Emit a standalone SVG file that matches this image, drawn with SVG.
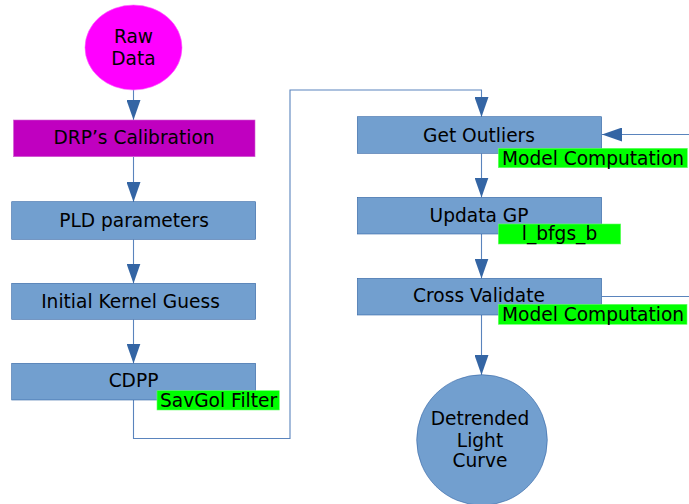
<svg xmlns="http://www.w3.org/2000/svg" width="689" height="504" viewBox="0 0 689 504">
<style>
text{font-family:"DejaVu Sans","Liberation Sans",sans-serif;font-size:18.6px;fill:#000;text-anchor:middle}
.box{fill:#729fcf;stroke:#3465a4;stroke-width:0.6}
.tag{fill:#00ff00;stroke:#66ff66;stroke-width:0.6}
.tag-t{text-anchor:start}
.conn{fill:none;stroke:#5a84bd;stroke-width:1.1}
</style>
<defs>
<marker id="ah" viewBox="0 0 20 14" refX="20" refY="7" markerWidth="20" markerHeight="14" orient="auto" markerUnits="userSpaceOnUse">
<path d="M0,0 L20,7 L0,14 z" fill="#3465a4"/>
</marker>
</defs>
<rect width="689" height="504" fill="#ffffff"/>
<g id="connectors">
<line class="conn" x1="133.5" y1="90" x2="133.5" y2="120" marker-end="url(#ah)"/>
<line class="conn" x1="133.5" y1="157" x2="133.5" y2="202" marker-end="url(#ah)"/>
<line class="conn" x1="133.5" y1="239.5" x2="133.5" y2="283.5" marker-end="url(#ah)"/>
<line class="conn" x1="133.5" y1="319.5" x2="133.5" y2="363.5" marker-end="url(#ah)"/>
<polyline class="conn" points="133.5,400 133.5,438.5 290,438.5 290,90 481.5,90 481.5,117" marker-end="url(#ah)"/>
<line class="conn" x1="481.5" y1="153.5" x2="481.5" y2="197.5" marker-end="url(#ah)"/>
<line class="conn" x1="481.5" y1="234" x2="481.5" y2="278.5" marker-end="url(#ah)"/>
<line class="conn" x1="481.5" y1="315" x2="481.5" y2="375" marker-end="url(#ah)"/>
<line class="conn" x1="689" y1="134.5" x2="602" y2="134.5" marker-end="url(#ah)"/>
<line class="conn" x1="602" y1="296.5" x2="689" y2="296.5"/>
</g>
<g id="raw-data">
<ellipse cx="133.5" cy="47.5" rx="48.5" ry="42.5" fill="#ff00ff" stroke="#ff66ff" stroke-width="0.6"/>
<text x="133.5" y="43.3">Raw</text>
<text x="133.5" y="65">Data</text>
</g>
<g id="drp-calibration">
<rect x="13.5" y="120" width="241.5" height="36.7" fill="#c000c0" stroke="#d060d0" stroke-width="0.6"/>
<text x="134" y="144">DRP’s Calibration</text>
</g>
<g id="pld-parameters">
<rect class="box" x="11.7" y="201.7" width="244" height="37.6"/>
<text x="134" y="226.5">PLD parameters</text>
</g>
<g id="initial-kernel-guess">
<rect class="box" x="11.7" y="283.3" width="244" height="36"/>
<text x="130.5" y="307.7">Initial Kernel Guess</text>
</g>
<g id="cdpp">
<rect class="box" x="11.7" y="363.3" width="244" height="36.7"/>
<text x="133.5" y="387.3">CDPP</text>
<rect class="tag" x="157" y="390.7" width="122.3" height="19.3"/>
<text class="tag-t" x="160" y="406.7">SavGol Filter</text>
</g>
<g id="get-outliers">
<rect class="box" x="357.3" y="116.7" width="244.4" height="36.6"/>
<text x="479" y="141.5">Get Outliers</text>
<rect class="tag" x="498.3" y="148.3" width="189" height="19.4"/>
<text class="tag-t" x="502" y="165">Model Computation</text>
</g>
<g id="update-gp">
<rect class="box" x="357.3" y="197.3" width="244.4" height="36.7"/>
<text x="479" y="221.7">Updata GP</text>
<rect class="tag" x="498.3" y="224" width="122.4" height="20"/>
<text x="559.5" y="240">l_bfgs_b</text>
</g>
<g id="cross-validate">
<rect class="box" x="357.3" y="278.3" width="244.4" height="36.7"/>
<text x="479" y="301.7">Cross Validate</text>
<rect class="tag" x="498.3" y="304.3" width="188.7" height="20"/>
<text class="tag-t" x="502" y="320.7">Model Computation</text>
</g>
<g id="detrended-light-curve">
<circle cx="482" cy="440" r="65.3" fill="#729fcf" stroke="#3465a4" stroke-width="0.6"/>
<text x="480" y="425">Detrended</text>
<text x="480" y="446.5">Light</text>
<text x="480" y="467">Curve</text>
</g>
</svg>
